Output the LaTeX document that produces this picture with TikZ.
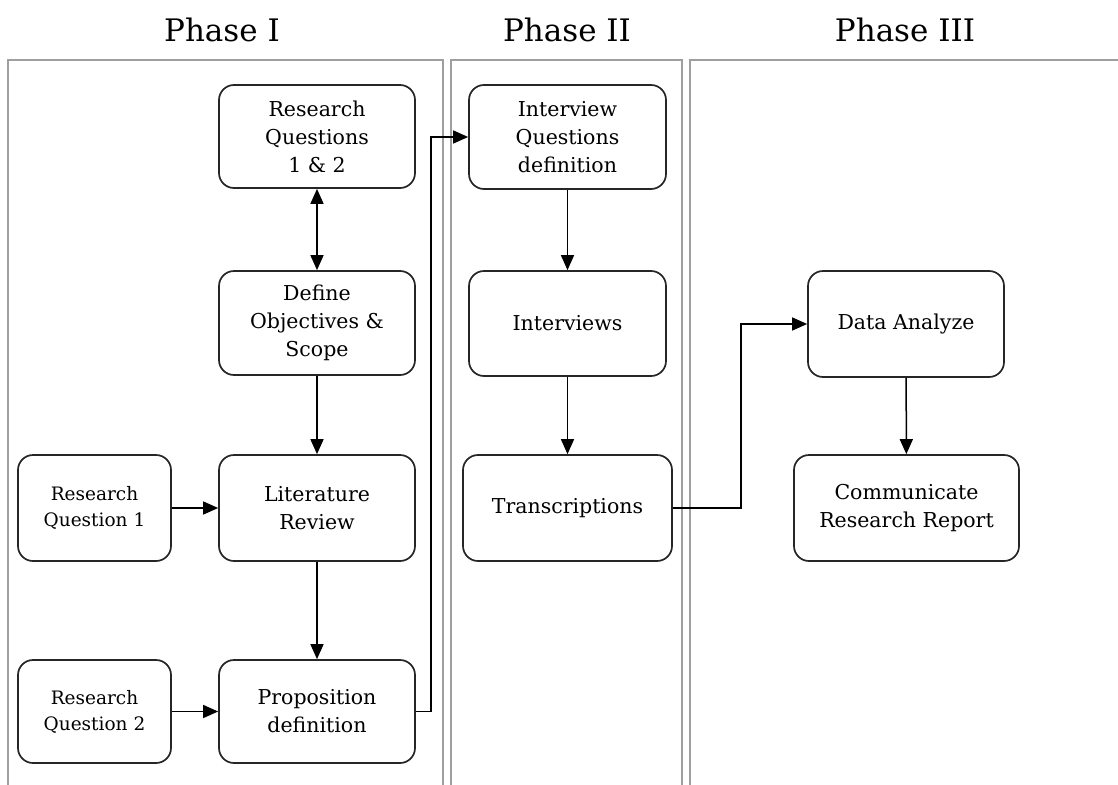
\documentclass[tikz,border=0pt]{standalone}
\usepackage{fontspec}
\setmainfont{DejaVu Serif}
\usetikzlibrary{arrows.meta}
\begin{document}
\begin{tikzpicture}[x=1pt,y=-1pt,
  panel/.style={draw=gray!75,line width=1.8pt},
  stepbox/.style={draw=black!85,line width=1.7pt,rounded corners=15pt,align=center,
    font=\fontsize{20.5}{28}\selectfont,inner sep=0pt},
  smallbox/.style={stepbox,font=\fontsize{18.5}{26}\selectfont},
  flow/.style={draw=black,line width=1.5pt,-{Triangle[length=15pt,width=13pt]}},
  title/.style={font=\fontsize{31}{36}\selectfont}]
\useasboundingbox (0,0) rectangle (1118,784);
\clip (0,0) rectangle (1118,784);
% phase columns, open at the bottom
\draw[panel] (8,800) -- (8,60) -- (443,60) -- (443,800);
\draw[panel] (451,800) -- (451,60) -- (682,60) -- (682,800);
\draw[panel] (690,800) -- (690,60) -- (1130,60);
\node[title] (t1) at (222,30) {Phase I};
\node[title] (t2) at (567,30) {Phase II};
\node[title] (t3) at (905,30) {Phase III};
% phase I
\node[stepbox,minimum width=196pt,minimum height=103pt] (rq12) at (317,136.5) {Research\\Questions\\1 \& 2};
\node[stepbox,minimum width=196pt,minimum height=104pt] (obj) at (317,323) {Define\\Objectives \&\\Scope};
\node[stepbox,minimum width=196pt,minimum height=106pt] (lit) at (317,508) {Literature\\Review};
\node[stepbox,minimum width=196pt,minimum height=103pt] (prop) at (317,711.5) {Proposition\\definition};
\node[smallbox,minimum width=153pt,minimum height=106pt] (rq1) at (94.5,508) {Research\\Question 1};
\node[smallbox,minimum width=153pt,minimum height=103pt] (rq2) at (94.5,711.5) {Research\\Question 2};
% phase II
\node[stepbox,minimum width=197pt,minimum height=104pt] (iq) at (567.5,137) {Interview\\Questions\\definition};
\node[stepbox,minimum width=197pt,minimum height=105pt] (int) at (567.5,323.5) {Interviews};
\node[stepbox,minimum width=209pt,minimum height=106pt] (tr) at (567.5,508) {Transcriptions};
% phase III
\node[stepbox,minimum width=196pt,minimum height=106pt] (da) at (906,324) {Data Analyze};
\node[stepbox,minimum width=225pt,minimum height=106pt] (cr) at (906.5,508) {Communicate\\Research Report};
% connectors
\draw[flow,{Triangle[length=15pt,width=13pt]}-{Triangle[length=15pt,width=13pt]}] (rq12) -- (obj);
\draw[flow] (obj) -- (lit);
\draw[flow] (lit) -- (prop);
\draw[flow] (rq1) -- (lit);
\draw[flow] (rq2) -- (prop);
\draw[flow] (prop.east) -- ++(15,0) |- (iq.west);
\draw[flow] (iq) -- (int);
\draw[flow] (int) -- (tr);
\draw[flow] (tr.east) -- ++(68,0) |- (da.west);
\draw[flow] (da) -- (cr);
\end{tikzpicture}
\end{document}
